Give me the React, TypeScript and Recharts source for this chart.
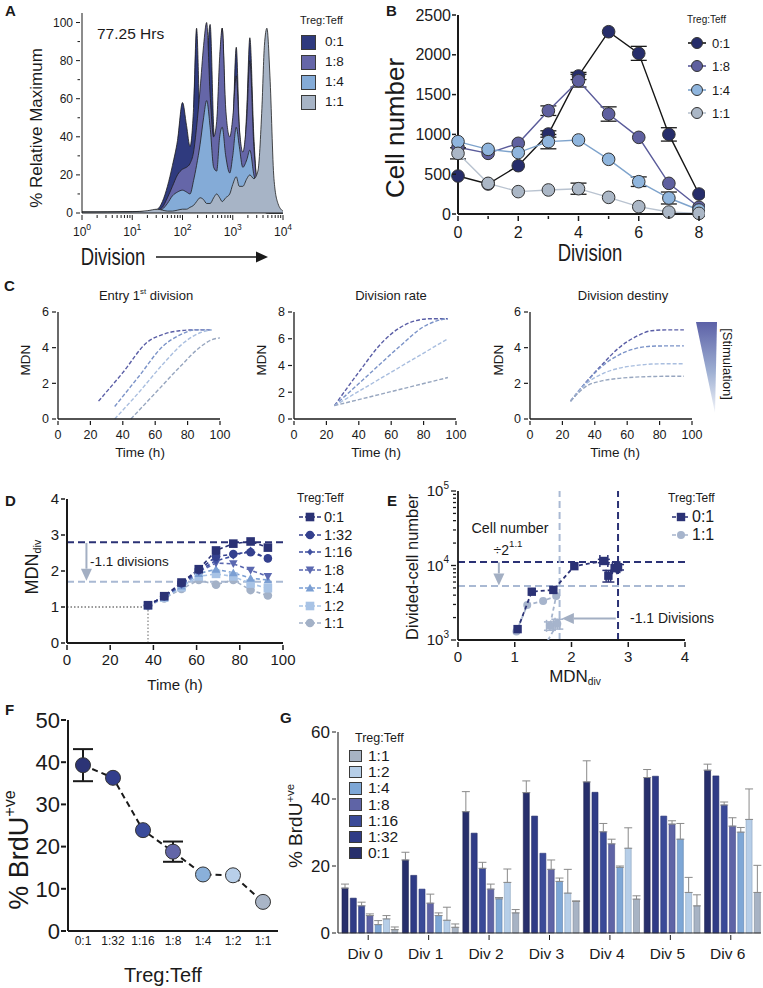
import React from 'react';
import {
  AreaChart,
  Area,
  LineChart,
  Line,
  BarChart,
  Bar,
  ScatterChart,
  Scatter,
  XAxis,
  YAxis,
  ErrorBar,
  ReferenceLine,
} from 'recharts';

const FONT = "'Liberation Sans', Arial, Helvetica, sans-serif";
const INK = '#1a1a1a';

// ---------- A: CFSE-style division histograms (x is log10 of intensity) ----------
const aLog = [0, 0.5, 1, 1.3, 1.5, 1.6, 1.7, 1.8, 1.9, 2.0, 2.08, 2.15, 2.22, 2.28, 2.35, 2.42, 2.48, 2.55, 2.62, 2.68, 2.74, 2.79, 2.86, 2.94, 3.0, 3.07, 3.13, 3.2, 3.28, 3.34, 3.42, 3.5, 3.58, 3.63, 3.68, 3.74, 3.82, 3.9, 4.0];
const aHist01 = [0.5, 0.5, 0.6, 0.8, 2, 6, 14, 25, 38, 58, 46, 35, 55, 97, 45, 30, 72, 99, 45, 21, 62, 97, 45, 20, 42, 87, 45, 22, 55, 92, 40, 10, 2, 0.5, 0, 0, 0, 0, 0];
const aHist18 = [0.5, 0.5, 0.6, 0.8, 1.5, 3, 8, 14, 20, 23, 24, 26, 32, 45, 65, 88, 100, 62, 40, 48, 82, 97, 55, 40, 50, 72, 45, 32, 50, 80, 35, 12, 3, 1, 0, 0, 0, 0, 0];
const aHist14 = [0.3, 0.3, 0.4, 0.6, 1, 2, 5, 9, 11, 12, 11, 10, 17, 25, 36, 50, 59, 45, 24, 22, 40, 45, 30, 21, 30, 45, 35, 24, 28, 33, 20, 12, 6, 3, 1, 0, 0, 0, 0];
const aHist11 = [0.5, 0.6, 0.7, 1.2, 2, 1.5, 1, 1, 1.5, 2, 2, 3, 4, 6, 8, 7, 5, 5, 8, 10, 8, 6, 8, 10, 15, 19, 14, 14, 18, 20, 18, 22, 55, 88, 97, 72, 18, 5, 1];
const aRatios = ['0:1', '1:8', '1:4', '1:1'];
const aFills = ['#2f3a7e', '#6566a8', '#84abd7', '#a7b4c6'];

// ---------- B: cell number per division ----------
const bDivision = [0, 1, 2, 3, 4, 5, 6, 7, 8];
const bCells01 = [477, 377, 607, 1005, 1734, 2290, 2018, 1000, 251];
const bErr01 = [0, 0, 0, 40, 45, 0, 88, 84, 0];
const bCells18 = [838, 762, 888, 1298, 1675, 1256, 963, 385, 84];
const bErr18 = [0, 0, 0, 60, 80, 90, 0, 0, 0];
const bCells14 = [909, 812, 771, 909, 930, 687, 406, 201, 50];
const bErr14 = [0, 0, 0, 90, 0, 0, 60, 75, 0];
const bCells11 = [762, 385, 281, 302, 318, 209, 92, 25, 8];
const bErr11 = [70, 0, 0, 0, 70, 0, 0, 0, 0];
const bRatios = ['0:1', '1:8', '1:4', '1:1'];
const bFills = ['#262d6a', '#5f609f', '#8fb5dd', '#abb7c6'];
const bStrokes = ['#151515', '#5a5b9a', '#7ea3cc', '#b9c3d0'];

// ---------- C: model MDN curves ----------
const cEntryT1 = [25, 40, 55, 65, 75, 85, 95];
const cEntryM1 = [1, 2.6, 4.3, 4.75, 4.95, 5.0, 5.0];
const cEntryT2 = [35, 50, 65, 75, 85, 95];
const cEntryM2 = [0.7, 2.4, 4.1, 4.7, 5.0, 5.0];
const cEntryT3 = [35, 50, 65, 78, 88, 95];
const cEntryM3 = [0, 1.5, 3.1, 4.3, 4.85, 5.0];
const cEntryT4 = [45, 60, 75, 88, 95, 100];
const cEntryM4 = [0, 1.45, 2.9, 4.05, 4.45, 4.55];

const cRateT1 = [25, 40, 55, 65, 75, 85, 95];
const cRateM1 = [1, 3.5, 5.8, 6.8, 7.35, 7.5, 7.5];
const cRateT2 = [25, 45, 65, 80, 90, 95];
const cRateM2 = [1, 3.2, 5.4, 6.9, 7.4, 7.5];
const cRateT3 = [25, 95];
const cRateM3 = [1, 6.0];
const cRateT4 = [25, 95];
const cRateM4 = [1, 3.1];

const cDestT = [25, 35, 45, 55, 65, 75, 85, 95];
const cDestM1 = [1, 2.1, 3.1, 4.0, 4.6, 4.95, 5.0, 5.0];
const cDestM2 = [1, 2.1, 3.0, 3.6, 3.95, 4.08, 4.1, 4.1];
const cDestM3 = [1, 2.0, 2.55, 2.85, 3.0, 3.08, 3.1, 3.1];
const cDestM4 = [1, 1.85, 2.15, 2.28, 2.35, 2.38, 2.4, 2.4];
const cColors = ['#5a5ea6', '#7b93c8', '#a9bedf', '#97a6bf'];

// ---------- D: MDN_div over time ----------
const dTime = [37.5, 45, 53, 61, 69, 77, 85, 93];
const dMdn01 = [1.05, 1.3, 1.68, 2.05, 2.57, 2.76, 2.82, 2.65];
const dMdn132 = [1.05, 1.3, 1.66, 2.03, 2.4, 2.47, 2.52, 2.35];
const dMdn116 = [1.05, 1.29, 1.64, 2.01, 2.28, 2.42, 2.58, 2.33];
const dMdn18 = [1.04, 1.28, 1.62, 1.98, 2.22, 2.2, 2.02, 1.85];
const dMdn14 = [1.04, 1.27, 1.58, 1.93, 2.05, 1.95, 1.8, 1.75];
const dMdn12 = [1.04, 1.26, 1.55, 1.85, 1.92, 1.85, 1.65, 1.52];
const dMdn11 = [1.03, 1.24, 1.5, 1.75, 1.62, 1.75, 1.47, 1.32];
const dRatios = ['0:1', '1:32', '1:16', '1:8', '1:4', '1:2', '1:1'];
const dColors = ['#2b3275', '#34408e', '#3f4f9f', '#5b68b0', '#7b9fd3', '#a8c3e5', '#a3b1c7'];
const dShapes = ['square', 'circle', 'diamond', 'down', 'up', 'square', 'circle'];

// ---------- E: divided-cell number vs MDN_div ----------
const eMdn01 = [1.05, 1.3, 1.68, 2.05, 2.57, 2.76, 2.82, 2.65];
const eCells01 = [1400, 4450, 4700, 9800, 11500, 9200, 9500, 7300];
const eMdnErr01 = [0, 0, 0, 0, 0.07, 0.04, 0.03, 0.04];
const eCellsErr01 = [0, 0, 0, 0, 600, 0, 800, 1300];
const eMdn11 = [1.03, 1.22, 1.5, 1.73, 1.62, 1.75, 1.47, 1.32];
const eCells11 = [1300, 2950, 3350, 3900, 1550, 1650, 700, 500];
const eMdnErr11 = [0, 0, 0, 0, 0.06, 0.04, 0, 0];
const eCellsErr11 = [0, 0, 0, 0, 200, 250, 0, 0];

// ---------- F: % BrdU+ by ratio ----------
const fRatios = ['0:1', '1:32', '1:16', '1:8', '1:4', '1:2', '1:1'];
const fBrdu = [39.3, 36.3, 23.9, 18.8, 13.4, 13.2, 6.9];
const fErr = [3.8, 0, 0, 2.4, 0, 0, 0];
const fColors = ['#2c3476', '#323e8c', '#3a4b9b', '#6366a8', '#8ab0da', '#b8cfe9', '#a9b5c7'];

// ---------- G: % BrdU+ per division ----------
const gDivs = ['Div 0', 'Div 1', 'Div 2', 'Div 3', 'Div 4', 'Div 5', 'Div 6'];
const gRatios = ['0:1', '1:32', '1:16', '1:8', '1:4', '1:2', '1:1'];
const g01 = [13.4, 21.8, 36.2, 41.9, 45.1, 46.4, 48.6];
const g01Err = [1.2, 2.3, 6.0, 3.5, 6.3, 2.4, 1.8];
const g132 = [10.4, 17.2, 29.8, 34.9, 42.0, 46.8, 46.9];
const g132Err = [0, 0, 0, 0, 0, 0, 0];
const g116 = [8.1, 13.1, 19.3, 23.8, 30.2, 34.9, 38.2];
const g116Err = [1.1, 0, 1.8, 0, 2.5, 0, 0.9];
const g18 = [5.2, 8.9, 13.1, 19.0, 26.6, 32.5, 31.9];
const g18Err = [0.5, 2.7, 1.5, 2.8, 1.4, 1.0, 2.5];
const g14 = [2.5, 5.2, 10.2, 15.4, 19.6, 28.0, 30.1];
const g14Err = [1.2, 0.8, 0.4, 1.0, 0.4, 4.7, 1.4];
const g12 = [4.2, 3.8, 15.1, 11.9, 25.3, 12.1, 33.9];
const g12Err = [1.0, 3.9, 4.0, 7.1, 6.1, 4.5, 9.1];
const g11 = [1.0, 1.7, 6.0, 9.4, 10.1, 8.1, 12.1];
const g11Err = [0.8, 1.0, 1.0, 0.2, 1.0, 3.3, 8.1];
const gFills = ['#272f6c', '#2f3b86', '#3a4a98', '#5f64a6', '#7ea7d6', '#b6cee8', '#a7b3c4'];
const gStrokes = ['#1b2150', '#222c66', '#2b3878', '#454a86', '#5f82ad', '#8da4c0', '#7c8796'];

// ---------- helpers ----------
const isMajor = (v: number, majors: number[]) => majors.some((m) => Math.abs(m - v) < 1e-6);

type TickOpts = {
  majors?: number[];
  len: number;
  minor?: number;
  gap: number;
  size: number;
  sw?: number;
  dx?: number;
  fmt?: (v: any) => React.ReactNode;
};

function leftTick(o: TickOpts) {
  return (p: any) => {
    const v = p.payload.value;
    const major = !o.majors || isMajor(v, o.majors);
    const len = major ? o.len : o.minor ?? 0;
    return (
      <g key={`l-${p.index}`}>
        {len > 0 && <line x1={p.x} y1={p.y} x2={p.x - len} y2={p.y} stroke={INK} strokeWidth={o.sw ?? 1} />}
        {major && (
          <text x={p.x - o.len - o.gap} y={p.y} dy="0.35em" textAnchor="end" fontSize={o.size} fill={INK} fontFamily={FONT}>
            {o.fmt ? o.fmt(v) : v}
          </text>
        )}
      </g>
    );
  };
}

function bottomTick(o: TickOpts) {
  return (p: any) => {
    const v = p.payload.value;
    const major = !o.majors || isMajor(v, o.majors);
    const len = major ? o.len : o.minor ?? 0;
    return (
      <g key={`b-${p.index}`}>
        {len > 0 && <line x1={p.x} y1={p.y} x2={p.x} y2={p.y + len} stroke={INK} strokeWidth={o.sw ?? 1} />}
        {major && (
          <text x={p.x + (o.dx ?? 0)} y={p.y + o.gap} dy="0.35em" textAnchor="middle" fontSize={o.size} fill={INK} fontFamily={FONT}>
            {o.fmt ? o.fmt(v) : v}
          </text>
        )}
      </g>
    );
  };
}

const powLabel = (exp: number, sup: number) => (
  <>
    10
    <tspan dy={-sup * 0.75} fontSize={sup}>
      {exp}
    </tspan>
  </>
);

function marker(shape: string, cx: number, cy: number, fill: string, s: number, stroke = 'none') {
  switch (shape) {
    case 'square':
      return <rect x={cx - s} y={cy - s} width={2 * s} height={2 * s} fill={fill} stroke={stroke} />;
    case 'diamond':
      return <polygon points={`${cx},${cy - s} ${cx + s * 0.8},${cy} ${cx},${cy + s} ${cx - s * 0.8},${cy}`} fill={fill} stroke={stroke} />;
    case 'down':
      return <polygon points={`${cx - s},${cy - s * 0.8} ${cx + s},${cy - s * 0.8} ${cx},${cy + s}`} fill={fill} stroke={stroke} />;
    case 'up':
      return <polygon points={`${cx - s},${cy + s * 0.8} ${cx + s},${cy + s * 0.8} ${cx},${cy - s}`} fill={fill} stroke={stroke} />;
    default:
      return <circle cx={cx} cy={cy} r={s} fill={fill} stroke={stroke} />;
  }
}

const arrowShape = (color: string, w: number) => (p: any) => {
  const { x1, y1, x2, y2 } = p;
  const ang = Math.atan2(y2 - y1, x2 - x1);
  const L = 12;
  const H = 5.5;
  const bx = x2 - L * Math.cos(ang);
  const by = y2 - L * Math.sin(ang);
  const nx = -Math.sin(ang) * H;
  const ny = Math.cos(ang) * H;
  return (
    <g>
      <line x1={x1} y1={y1} x2={bx} y2={by} stroke={color} strokeWidth={w} />
      <polygon points={`${x2},${y2} ${bx + nx},${by + ny} ${bx - nx},${by - ny}`} fill={color} />
    </g>
  );
};

function Txt({ x, y, size, children, rot = 0, sx = 1, anchor = 'middle', weight = 400 }: any) {
  const tx = anchor === 'middle' ? '-50%' : '0';
  return (
    <div
      style={{
        position: 'absolute',
        left: x,
        top: y,
        transform: `translate(${tx},-50%) rotate(${rot}deg) scaleX(${sx})`,
        fontSize: size,
        fontWeight: weight,
        whiteSpace: 'nowrap',
        lineHeight: 1,
        color: INK,
      }}
    >
      {children}
    </div>
  );
}

const Sup = ({ children, s = 0.6 }: any) => <span style={{ fontSize: `${s}em`, verticalAlign: '0.75em' }}>{children}</span>;
const Sub = ({ children, s = 0.6 }: any) => <span style={{ fontSize: `${s}em`, verticalAlign: '-0.3em' }}>{children}</span>;

// ---------- panels ----------
function PanelA() {
  const data = aLog.map((x, i) => ({ x, a0: aHist01[i], a1: aHist18[i], a2: aHist14[i], a3: aHist11[i] }));
  const xTicks = [0, 1, 2, 3]
    .flatMap((n) => [1, 2, 3, 4, 5, 6, 7, 8, 9].map((k) => n + Math.log10(k)))
    .concat([4]);
  return (
    <div style={{ position: 'absolute', left: 32, top: 0 }}>
      <AreaChart width={263} height={239} data={data} margin={{ top: 13, right: 12, left: 0, bottom: 0 }}>
        <XAxis
          dataKey="x"
          type="number"
          domain={[0, 4]}
          ticks={xTicks}
          interval={0}
          height={26}
          tickSize={0}
          tickLine={false}
          axisLine={{ stroke: INK }}
          tick={bottomTick({ majors: [0, 1, 2, 3, 4], len: 5, minor: 3, gap: 17, size: 12, fmt: (v) => powLabel(Math.round(v), 8.5) })}
        />
        <XAxis xAxisId="top" orientation="top" type="number" domain={[0, 4]} height={0} tick={false} tickLine={false} axisLine={{ stroke: INK }} />
        <YAxis
          type="number"
          domain={[0, 105]}
          ticks={[0, 10, 20, 30, 40, 50, 60, 70, 80, 90, 100]}
          interval={0}
          width={50}
          tickSize={0}
          tickLine={false}
          axisLine={{ stroke: INK }}
          tick={leftTick({ majors: [0, 20, 40, 60, 80, 100], len: 4, minor: 2.5, gap: 3, size: 12 })}
        />
        <YAxis yAxisId="right" orientation="right" type="number" domain={[0, 105]} width={0} tick={false} tickLine={false} axisLine={{ stroke: INK }} />
        {['a0', 'a1', 'a2', 'a3'].map((k, i) => (
          <Area key={k} dataKey={k} type="monotone" fill={aFills[i]} fillOpacity={1} stroke="#1e1e1e" strokeWidth={0.8} isAnimationActive={false} />
        ))}
      </AreaChart>
    </div>
  );
}

function PanelB() {
  const data = bDivision.map((d, i) => ({
    d,
    v0: bCells01[i],
    e0: bErr01[i] || null,
    v1: bCells18[i],
    e1: bErr18[i] || null,
    v2: bCells14[i],
    e2: bErr14[i] || null,
    v3: bCells11[i],
    e3: bErr11[i] || null,
  }));
  return (
    <div style={{ position: 'absolute', left: 398, top: 0 }}>
      <LineChart width={307} height={242} data={data} margin={{ top: 15, right: 6, left: 0, bottom: 0 }}>
        <XAxis
          dataKey="d"
          type="number"
          domain={[0, 8]}
          ticks={bDivision}
          interval={0}
          height={28}
          tickSize={0}
          tickLine={false}
          axisLine={{ stroke: INK, strokeWidth: 2 }}
          tick={bottomTick({ majors: [0, 2, 4, 6, 8], len: 5, minor: 3, gap: 16, size: 16, sw: 1.5 })}
        />
        <YAxis
          type="number"
          domain={[0, 2500]}
          ticks={[0, 500, 1000, 1500, 2000, 2500]}
          interval={0}
          width={60}
          tickSize={0}
          tickLine={false}
          axisLine={{ stroke: INK, strokeWidth: 2 }}
          tick={leftTick({ len: 4, gap: 1, size: 16, sw: 1.5 })}
        />
        {[0, 1, 2, 3].map((i) => (
          <Line
            key={i}
            dataKey={`v${i}`}
            stroke={bStrokes[i]}
            strokeWidth={1.4}
            isAnimationActive={false}
            dot={(p: any) => <circle key={`bd${i}-${p.index}`} cx={p.cx} cy={p.cy} r={6.3} fill={bFills[i]} stroke="#333" strokeWidth={1} />}
          >
            <ErrorBar dataKey={`e${i}`} width={8} stroke={INK} strokeWidth={1.3} />
          </Line>
        ))}
      </LineChart>
    </div>
  );
}

function CChart({ left, yMax, yTicks, lines }: any) {
  return (
    <div style={{ position: 'absolute', left, top: 302 }}>
      <LineChart width={204} height={139} margin={{ top: 10, right: 12, left: 0, bottom: 0 }}>
        <XAxis
          dataKey="t"
          type="number"
          domain={[0, 100]}
          ticks={[0, 20, 40, 60, 80, 100]}
          interval={0}
          height={22}
          tickSize={0}
          tickLine={false}
          axisLine={{ stroke: INK, strokeWidth: 1.3 }}
          tick={bottomTick({ len: 4, gap: 13.5, size: 12.5, sw: 1.2 })}
        />
        <YAxis
          type="number"
          domain={[0, yMax]}
          ticks={yTicks}
          interval={0}
          width={30}
          tickSize={0}
          tickLine={false}
          axisLine={{ stroke: INK, strokeWidth: 1.3 }}
          tick={leftTick({ len: 4, gap: 3, size: 12.5, sw: 1.2 })}
        />
        {lines.map((l: any, i: number) => (
          <Line
            key={i}
            data={l.t.map((t: number, j: number) => ({ t, m: l.m[j] }))}
            dataKey="m"
            type="monotone"
            stroke={cColors[i]}
            strokeWidth={1.4}
            strokeDasharray="4 2"
            dot={false}
            isAnimationActive={false}
          />
        ))}
      </LineChart>
    </div>
  );
}

function PanelC() {
  return (
    <>
      <CChart
        left={28}
        yMax={6}
        yTicks={[0, 2, 4, 6]}
        lines={[
          { t: cEntryT1, m: cEntryM1 },
          { t: cEntryT2, m: cEntryM2 },
          { t: cEntryT3, m: cEntryM3 },
          { t: cEntryT4, m: cEntryM4 },
        ]}
      />
      <CChart
        left={264}
        yMax={8}
        yTicks={[0, 2, 4, 6, 8]}
        lines={[
          { t: cRateT1, m: cRateM1 },
          { t: cRateT2, m: cRateM2 },
          { t: cRateT3, m: cRateM3 },
          { t: cRateT4, m: cRateM4 },
        ]}
      />
      <CChart
        left={500}
        yMax={6}
        yTicks={[0, 2, 4, 6]}
        lines={[
          { t: cDestT, m: cDestM1 },
          { t: cDestT, m: cDestM2 },
          { t: cDestT, m: cDestM3 },
          { t: cDestT, m: cDestM4 },
        ]}
      />
    </>
  );
}

const dKeys = ['d0', 'd1', 'd2', 'd3', 'd4', 'd5', 'd6'];

function PanelD() {
  const series = [dMdn01, dMdn132, dMdn116, dMdn18, dMdn14, dMdn12, dMdn11];
  const data = dTime.map((t, i) => {
    const row: any = { t };
    series.forEach((s, k) => (row[dKeys[k]] = s[i]));
    return row;
  });
  const order = [6, 5, 4, 3, 2, 1, 0];
  return (
    <div style={{ position: 'absolute', left: 37, top: 483 }}>
      <LineChart width={260} height={186} data={data} margin={{ top: 16, right: 14, left: 0, bottom: 0 }}>
        <XAxis
          dataKey="t"
          type="number"
          domain={[0, 100]}
          ticks={[0, 20, 40, 60, 80, 100]}
          interval={0}
          height={26}
          tickSize={0}
          tickLine={false}
          axisLine={{ stroke: INK, strokeWidth: 2 }}
          tick={bottomTick({ len: 5, gap: 15, size: 15, sw: 1.5 })}
        />
        <YAxis
          type="number"
          domain={[0, 4]}
          ticks={[0, 1, 2, 3, 4]}
          interval={0}
          width={30}
          tickSize={0}
          tickLine={false}
          axisLine={{ stroke: INK, strokeWidth: 2 }}
          tick={leftTick({ len: 4, gap: 2, size: 15, sw: 1.5 })}
        />
        <ReferenceLine y={2.8} stroke="#2b3275" strokeWidth={2} strokeDasharray="7 4" />
        <ReferenceLine y={1.7} stroke="#a9b9d3" strokeWidth={2} strokeDasharray="7 4" />
        <ReferenceLine segment={[{ x: 0, y: 1 }, { x: 37.5, y: 1 }]} stroke="#333" strokeWidth={1} strokeDasharray="1.5 2" />
        <ReferenceLine segment={[{ x: 37.5, y: 0 }, { x: 37.5, y: 1 }]} stroke="#999" strokeWidth={1.5} strokeDasharray="1.5 2" />
        <ReferenceLine segment={[{ x: 9, y: 2.78 }, { x: 9, y: 1.73 }]} stroke="#a3afc3" shape={arrowShape('#a3afc3', 2)} />
        {order.map((k) => (
          <Line
            key={k}
            dataKey={dKeys[k]}
            stroke={dColors[k]}
            strokeWidth={1.6}
            strokeDasharray="4 3"
            isAnimationActive={false}
            dot={(p: any) => <g key={`dd${k}-${p.index}`}>{marker(dShapes[k], p.cx, p.cy, dColors[k], dShapes[k] === 'diamond' ? 3.5 : 4.3)}</g>}
          />
        ))}
      </LineChart>
    </div>
  );
}

function PanelE() {
  const s01 = eMdn01.map((x, i) => ({ x, y: eCells01[i], ex: eMdnErr01[i] || null, ey: eCellsErr01[i] || null }));
  const s11 = eMdn11.map((x, i) => ({ x, y: eCells11[i], ex: eMdnErr11[i] || null, ey: eCellsErr11[i] || null }));
  const yTicks = [3, 4]
    .flatMap((n) => [1, 2, 3, 4, 5, 6, 7, 8, 9].map((k) => k * Math.pow(10, n)))
    .concat([100000]);
  return (
    <div style={{ position: 'absolute', left: 413, top: 475 }}>
      <ScatterChart width={278} height={191} margin={{ top: 16, right: 6, left: 0, bottom: 0 }}>
        <XAxis
          dataKey="x"
          type="number"
          domain={[0, 4]}
          ticks={[0, 1, 2, 3, 4]}
          interval={0}
          height={26}
          tickSize={0}
          tickLine={false}
          axisLine={{ stroke: INK, strokeWidth: 1.8 }}
          tick={bottomTick({ len: 5, gap: 15, size: 15, sw: 1.5 })}
        />
        <YAxis
          dataKey="y"
          type="number"
          scale="log"
          domain={[1000, 100000]}
          allowDataOverflow
          ticks={yTicks}
          interval={0}
          width={45}
          tickSize={0}
          tickLine={false}
          axisLine={{ stroke: INK, strokeWidth: 1.8 }}
          tick={leftTick({ majors: [1000, 10000, 100000], len: 5, minor: 3, gap: 2, size: 15, sw: 1.3, fmt: (v) => powLabel(Math.round(Math.log10(v)), 10) })}
        />
        <ReferenceLine y={11170} stroke="#2b3275" strokeWidth={2} strokeDasharray="7 4" />
        <ReferenceLine y={5290} stroke="#a9b9d3" strokeWidth={2} strokeDasharray="7 4" />
        <ReferenceLine x={2.82} stroke="#2b3275" strokeWidth={2} strokeDasharray="7 4" />
        <ReferenceLine x={1.79} stroke="#a9b9d3" strokeWidth={2} strokeDasharray="7 4" />
        <ReferenceLine segment={[{ x: 0.72, y: 11000 }, { x: 0.72, y: 5400 }]} stroke="#a3afc3" shape={arrowShape('#a3afc3', 2)} />
        <ReferenceLine segment={[{ x: 2.78, y: 1950 }, { x: 1.83, y: 1950 }]} stroke="#a3afc3" shape={arrowShape('#a3afc3', 2)} />
        <Scatter
          data={s11}
          line={{ stroke: '#a6b4cc', strokeWidth: 1.8, strokeDasharray: '4 3' }}
          shape={(p: any) => marker('circle', p.cx, p.cy, '#a6b4cc', 4)}
          isAnimationActive={false}
        >
          <ErrorBar dataKey="ex" direction="x" width={6} stroke="#a6b4cc" strokeWidth={1.5} />
          <ErrorBar dataKey="ey" direction="y" width={6} stroke="#a6b4cc" strokeWidth={1.5} />
        </Scatter>
        <Scatter
          data={s01}
          line={{ stroke: '#2b3275', strokeWidth: 1.8, strokeDasharray: '4 3' }}
          shape={(p: any) => marker('square', p.cx, p.cy, '#2b3275', 4.2)}
          isAnimationActive={false}
        >
          <ErrorBar dataKey="ex" direction="x" width={6} stroke="#2b3275" strokeWidth={1.5} />
          <ErrorBar dataKey="ey" direction="y" width={6} stroke="#2b3275" strokeWidth={1.5} />
        </Scatter>
      </ScatterChart>
    </div>
  );
}

function PanelF() {
  const data = fRatios.map((c, i) => ({ c, v: fBrdu[i], e: fErr[i] || null }));
  return (
    <div style={{ position: 'absolute', left: 28, top: 700 }}>
      <LineChart width={254} height={255} data={data} margin={{ top: 20, right: 4, left: 0, bottom: 0 }}>
        <XAxis
          dataKey="c"
          type="category"
          padding={{ left: 15, right: 15 }}
          interval={0}
          height={24}
          tickSize={0}
          tickLine={false}
          axisLine={{ stroke: INK, strokeWidth: 2 }}
          tick={bottomTick({ len: 0, gap: 8, size: 12 })}
        />
        <YAxis
          type="number"
          domain={[0, 50]}
          ticks={[0, 10, 20, 30, 40, 50]}
          interval={0}
          width={40}
          tickSize={0}
          tickLine={false}
          axisLine={{ stroke: INK, strokeWidth: 2 }}
          tick={leftTick({ len: 5, gap: 1, size: 22, sw: 2 })}
        />
        <Line
          dataKey="v"
          stroke={INK}
          strokeWidth={2}
          strokeDasharray="6 4"
          isAnimationActive={false}
          dot={(p: any) => <circle key={`fd-${p.index}`} cx={p.cx} cy={p.cy} r={7.5} fill={fColors[p.index]} stroke="#333" strokeWidth={1} />}
        >
          <ErrorBar dataKey="e" width={10} stroke={INK} strokeWidth={2} />
        </Line>
      </LineChart>
    </div>
  );
}

function PanelG() {
  const vals = [g01, g132, g116, g18, g14, g12, g11];
  const errs = [g01Err, g132Err, g116Err, g18Err, g14Err, g12Err, g11Err];
  const data = gDivs.map((d, i) => {
    const row: any = { d };
    vals.forEach((s, k) => {
      row[`s${k}`] = s[i];
      row[`e${k}`] = errs[k][i] ? [0, errs[k][i]] : null;
    });
    return row;
  });
  return (
    <div style={{ position: 'absolute', left: 298, top: 714 }}>
      <BarChart width={465} height={249} data={data} margin={{ top: 18, right: 2, left: 0, bottom: 0 }} barCategoryGap={4} barGap={2.3}>
        <XAxis
          dataKey="d"
          type="category"
          interval={0}
          height={30}
          tickSize={0}
          tickLine={false}
          axisLine={{ stroke: '#333', strokeWidth: 1.2 }}
          tick={bottomTick({ len: 5, gap: 19, size: 15.5, dx: -3 })}
        />
        <YAxis
          type="number"
          domain={[0, 60]}
          ticks={[0, 20, 40, 60]}
          interval={0}
          width={40}
          tickSize={0}
          tickLine={false}
          axisLine={{ stroke: '#333', strokeWidth: 1.2 }}
          tick={leftTick({ len: 4, gap: 2, size: 17 })}
        />
        {gRatios.map((r, k) => (
          <Bar key={r} dataKey={`s${k}`} fill={gFills[k]} stroke={gStrokes[k]} strokeWidth={0.6} isAnimationActive={false}>
            <ErrorBar dataKey={`e${k}`} width={4} stroke="#8a8a8a" strokeWidth={1} />
          </Bar>
        ))}
      </BarChart>
    </div>
  );
}

// ---------- legends ----------
function LegendBox({ items, left, top0, step, size, sw, textLeft, fontSize }: any) {
  return (
    <>
      {items.map((it: any, i: number) => (
        <React.Fragment key={it.label}>
          <div
            style={{
              position: 'absolute',
              left,
              top: top0 + i * step - size / 2,
              width: size,
              height: size,
              boxSizing: 'border-box',
              background: it.color,
              border: `${sw}px solid #3a3a3a`,
            }}
          />
          <Txt x={textLeft} y={top0 + i * step} size={fontSize} anchor="start">
            {it.label}
          </Txt>
        </React.Fragment>
      ))}
    </>
  );
}

function LineLegend({ items, x0, x1, top0, step, textLeft, fontSize }: any) {
  return (
    <>
      {items.map((it: any, i: number) => (
        <React.Fragment key={it.label}>
          <svg style={{ position: 'absolute', left: x0, top: top0 + i * step - 8, overflow: 'visible' }} width={x1 - x0} height={16}>
            <line x1={0} y1={8} x2={x1 - x0} y2={8} stroke={it.line ?? it.color} strokeWidth={1.6} strokeDasharray={it.dash} />
            {marker(it.shape, (x1 - x0) / 2, 8, it.color, it.s, it.stroke)}
          </svg>
          <Txt x={textLeft} y={top0 + i * step} size={fontSize} anchor="start">
            {it.label}
          </Txt>
        </React.Fragment>
      ))}
    </>
  );
}

function Decor() {
  return (
    <svg style={{ position: 'absolute', left: 0, top: 0, pointerEvents: 'none' }} width={763} height={988}>
      <defs>
        <linearGradient id="stim" x1="0" y1="0" x2="0" y2="1">
          <stop offset="0" stopColor="#5c61a7" />
          <stop offset="0.55" stopColor="#9fb0d3" />
          <stop offset="1" stopColor="#f2f4f9" />
        </linearGradient>
      </defs>
      <line x1={156} y1={257} x2={257} y2={257} stroke={INK} strokeWidth={1.5} />
      <polygon points="268,257 256,251.5 256,262.5" fill={INK} />
      <polygon points="696,322 717,322 715,413" fill="url(#stim)" />
    </svg>
  );
}

export default function App() {
  return (
    <div
      style={{
        position: 'absolute',
        left: 0,
        top: 0,
        width: 763,
        height: 988,
        background: '#fff',
        fontFamily: FONT,
        color: INK,
        overflow: 'hidden',
      }}
    >
      <PanelA />
      <PanelB />
      <PanelC />
      <PanelD />
      <PanelE />
      <PanelF />
      <PanelG />
      <Decor />

      {/* panel letters */}
      <Txt x={5} y={10} size={15} weight={700} anchor="start">A</Txt>
      <Txt x={386} y={10} size={15} weight={700} anchor="start">B</Txt>
      <Txt x={4} y={285} size={15} weight={700} anchor="start">C</Txt>
      <Txt x={5} y={500} size={15} weight={700} anchor="start">D</Txt>
      <Txt x={387} y={500} size={15} weight={700} anchor="start">E</Txt>
      <Txt x={5} y={709} size={15} weight={700} anchor="start">F</Txt>
      <Txt x={280} y={717} size={15} weight={700} anchor="start">G</Txt>

      {/* A */}
      <Txt x={36} y={128} size={17} rot={-90}>% Relative Maximum</Txt>
      <Txt x={97} y={34} size={15.5} anchor="start">77.25 Hrs</Txt>
      <Txt x={113} y={257} size={24} sx={0.77}>Division</Txt>
      <Txt x={300} y={20} size={11} anchor="start">Treg:Teff</Txt>
      <LegendBox
        items={aRatios.map((label, i) => ({ label, color: aFills[i] }))}
        left={301}
        top0={42}
        step={20}
        size={15}
        sw={1.3}
        textLeft={325}
        fontSize={13.5}
      />

      {/* B */}
      <Txt x={395} y={128} size={26} rot={-90}>Cell number</Txt>
      <Txt x={590} y={253} size={24} sx={0.77}>Division</Txt>
      <Txt x={687} y={20} size={10} anchor="start">Treg:Teff</Txt>
      <LineLegend
        items={bRatios.map((label, i) => ({ label, color: bFills[i], line: bStrokes[i], shape: 'circle', s: 5.5, stroke: '#333' }))}
        x0={688}
        x1={706}
        top0={43}
        step={23.3}
        textLeft={712}
        fontSize={13}
      />

      {/* C */}
      <Txt x={146} y={295} size={13}>
        Entry 1<Sup>st</Sup> division
      </Txt>
      <Txt x={391} y={295} size={13}>Division rate</Txt>
      <Txt x={623} y={295} size={13}>Division destiny</Txt>
      <Txt x={26} y={360} size={13.5} rot={-90}>MDN</Txt>
      <Txt x={262} y={360} size={13.5} rot={-90}>MDN</Txt>
      <Txt x={499} y={360} size={13.5} rot={-90}>MDN</Txt>
      <Txt x={140} y={453} size={13.5}>Time (h)</Txt>
      <Txt x={376} y={453} size={13.5}>Time (h)</Txt>
      <Txt x={615} y={453} size={13.5}>Time (h)</Txt>
      <Txt x={727} y={364} size={13} rot={90}>[Stimulation]</Txt>

      {/* D */}
      <Txt x={33} y={567} size={18} rot={-90}>
        MDN<Sub>div</Sub>
      </Txt>
      <Txt x={175} y={684} size={15}>Time (h)</Txt>
      <Txt x={90} y={562} size={13.5} anchor="start">-1.1 divisions</Txt>
      <Txt x={297} y={498} size={12} anchor="start">Treg:Teff</Txt>
      <LineLegend
        items={dRatios.map((label, i) => ({ label, color: dColors[i], shape: dShapes[i], s: dShapes[i] === 'diamond' ? 3.5 : 4.3, dash: '4 2' }))}
        x0={299}
        x1={321}
        top0={517}
        step={17.7}
        textLeft={324}
        fontSize={14.5}
      />

      {/* E */}
      <Txt x={412} y={567} size={16.5} rot={-90}>Divided-cell number</Txt>
      <Txt x={575} y={678} size={17}>
        MDN<Sub>div</Sub>
      </Txt>
      <Txt x={510} y={528} size={14.3}>Cell number</Txt>
      <Txt x={508} y={548} size={14}>
        ÷2<Sup s={0.7}>1.1</Sup>
      </Txt>
      <Txt x={630} y={618} size={14} anchor="start">-1.1 Divisions</Txt>
      <Txt x={668} y={498} size={12} anchor="start">Treg:Teff</Txt>
      <LineLegend
        items={[
          { label: '0:1', color: '#2b3275', shape: 'square', s: 4.2, dash: '4 2' },
          { label: '1:1', color: '#a6b4cc', shape: 'circle', s: 4, dash: '4 2' },
        ]}
        x0={672}
        x1={690}
        top0={517}
        step={18}
        textLeft={692}
        fontSize={16}
      />

      {/* F */}
      <Txt x={17} y={850} size={27} rot={-90}>
        % BrdU<Sup>+ve</Sup>
      </Txt>
      <Txt x={163} y={975} size={20}>Treg:Teff</Txt>

      {/* G */}
      <Txt x={295} y={826} size={19} rot={-90}>
        % BrdU<Sup>+ve</Sup>
      </Txt>
      <Txt x={355} y={738} size={12.5} anchor="start">Treg:Teff</Txt>
      <LegendBox
        items={gRatios
          .map((label, i) => ({ label, color: gFills[i] }))
          .reverse()}
        left={349}
        top0={756}
        step={16.2}
        size={12.5}
        sw={1}
        textLeft={368}
        fontSize={15.5}
      />
    </div>
  );
}
